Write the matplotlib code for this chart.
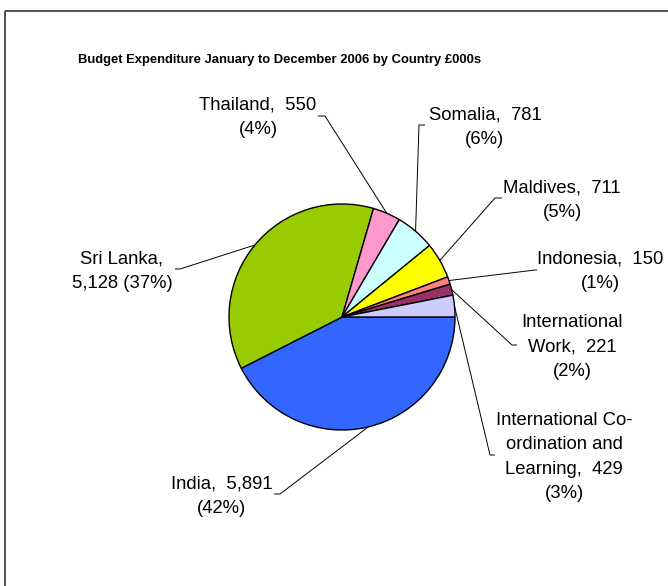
import matplotlib
matplotlib.use("Agg")
import matplotlib.pyplot as plt
from matplotlib.patches import Rectangle
import numpy as np

# ---- data ----
categories = ["India", "Sri Lanka", "Thailand", "Somalia", "Maldives",
              "Indonesia", "International Work",
              "International Co-ordination and Learning"]
values = [5891, 5128, 550, 781, 711, 150, 221, 429]
percents = [42, 37, 4, 6, 5, 1, 2, 3]
colors = ["#3366FF", "#99CC00", "#FF99CC", "#CCFFFF", "#FFFF00",
          "#FF8080", "#993366", "#CCCCFF"]
title = "Budget Expenditure January to December 2006 by Country £000s"

# label display layout (line breaks)
display_names = ["India", "Sri Lanka", "Thailand", "Somalia", "Maldives",
                 "Indonesia", "International\nWork",
                 "International Co-\nordination and\nLearning"]
value_seps = [",  ", ",\n", ",  ", ",  ", ",  ", ",  ", ",  ", ",  "]
pct_seps = ["\n", " ", "\n", "\n", "\n", "\n", "\n", "\n"]

# label block centres (pixel coords) and leader-line start points
label_pos = [(222, 496), (122, 271), (258, 117), (485, 127), (562, 200),
             (600, 271), (572, 347), (564, 457)]
leader_start = [[(274, 494), (280, 494)], [(175, 269), (180, 269)],
                [(318, 116), (325, 116)], [(425, 125), (419, 125)],
                [(502, 198), (495, 198)], [(537, 270), (535, 270)],
                [(517, 345), (512, 345)], [(495, 455), (490, 455)]]

W, H = 668, 586
fig = plt.figure(figsize=(W / 100, H / 100), dpi=100)
ax = fig.add_axes([0, 0, 1, 1])

cx, cy, r = 342, 317, 113
wedges, _ = ax.pie(values, colors=colors, startangle=0, counterclock=True,
                   center=(cx, cy), radius=r,
                   wedgeprops=dict(edgecolor="black", linewidth=1.0))
ax.set_xlim(0, W)
ax.set_ylim(H, 0)
ax.set_aspect("equal")
ax.axis("off")

font = ["Liberation Sans", "DejaVu Sans"]
for i, w in enumerate(wedges):
    mid = np.deg2rad((w.theta1 + w.theta2) / 2)
    px, py = cx + r * np.cos(mid), cy + r * np.sin(mid)
    pts = leader_start[i] + [(px, py)]
    xs, ys = zip(*pts)
    ax.plot(xs, ys, color="black", linewidth=0.7, solid_capstyle="butt")
    txt = (display_names[i] + value_seps[i] + f"{values[i]:,}" +
           pct_seps[i] + f"({percents[i]}%)")
    ax.text(label_pos[i][0], label_pos[i][1], txt, ha="center", va="center",
            multialignment="center", fontsize=13.3, family=font,
            linespacing=1.55, color="black")

ax.text(280, 60, title, ha="center", va="center", fontsize=9.4,
        fontweight="bold", family=font)

ax.add_patch(Rectangle((4.5, 10.5), 800, 800, fill=False,
                       edgecolor="#333333", linewidth=1.2))

fig.savefig("out.png", dpi=100)
